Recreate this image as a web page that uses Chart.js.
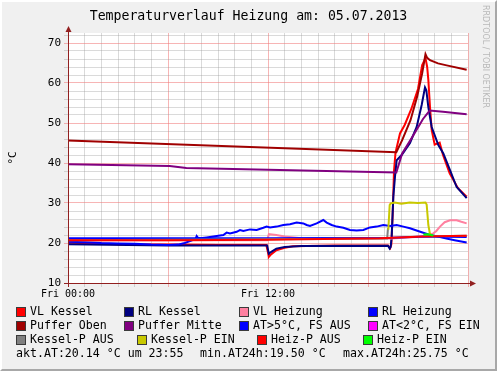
<!DOCTYPE html>
<html><head><meta charset="utf-8">
<script src="https://cdn.jsdelivr.net/npm/chart.js@4.4.1/dist/chart.umd.min.js"></script>
<style>
html,body{margin:0;padding:0;}
body{width:497px;height:371px;background:#f0f0f0;position:relative;overflow:hidden;font-family:"DejaVu Sans Mono",monospace;color:#000;}
#frame{position:absolute;left:0;top:0;width:497px;height:371px;box-sizing:border-box;border-left:2px solid #fff;border-top:2px solid #fff;border-right:2px solid #a8a8a8;border-bottom:2px solid #a8a8a8;pointer-events:none;}
canvas{position:absolute;left:0;top:0;}
.t{position:absolute;white-space:pre;font-size:11.6px;line-height:14px;}
.sq{position:absolute;width:8px;height:8px;border:1px solid #3a3a3a;}
#title{position:absolute;left:0;top:7px;width:497px;text-align:center;font-size:13.2px;line-height:18px;white-space:pre;}
#wm{position:absolute;left:481px;top:5px;writing-mode:vertical-rl;font-family:"DejaVu Sans",sans-serif;font-size:8px;color:#b8b8b8;white-space:pre;}
</style></head>
<body>
<canvas id="c" width="497" height="371"></canvas>
<div id="title">Temperaturverlauf Heizung am: 05.07.2013</div>
<div id="wm">RRDTOOL / TOBI OETIKER</div>
<div id="legend"></div>
<div id="frame"></div>
<script>
// ---- data (hours since Fri 00:00, °C) ----
const xTickLabels = {0: 'Fri 00:00', 12: 'Fri 12:00'};
const yTickLabels = [10, 20, 30, 40, 50, 60, 70];

const vlKesselH = [0, 1.5, 3, 6, 9, 11.9, 12.0, 12.05, 12.2, 12.5, 13, 13.5, 16, 19.2, 19.33, 19.4, 19.48, 19.56, 19.65, 19.92, 20.2, 20.6, 21.0, 21.25, 21.45, 21.55, 21.62, 21.72, 21.82, 22.0, 22.3, 22.5, 22.9, 23.4, 23.92];
const vlKesselC = [20.1, 19.9, 19.7, 19.6, 19.5, 19.5, 17.6, 16.5, 17.2, 18.2, 18.8, 19.2, 19.35, 19.35, 18.7, 19.6, 27, 38, 42.6, 47.4, 49.5, 53.5, 58.5, 64.5, 66.2, 64, 60.8, 54, 48.3, 44.6, 45.1, 42.0, 37.4, 33.7, 31.6];

const rlKesselH = [0, 6, 11.95, 12.05, 12.2, 12.5, 13, 14, 19.2, 19.3, 19.36, 19.42, 19.52, 19.62, 19.72, 20.02, 20.52, 20.92, 21.22, 21.42, 21.5, 21.62, 21.82, 22.22, 22.52, 22.92, 23.32, 23.92];
const rlKesselC = [19.7, 19.4, 19.35, 17.3, 17.8, 18.6, 19.0, 19.25, 19.3, 18.6, 19.0, 21.6, 31.6, 36.6, 40.7, 42.0, 45.0, 49.0, 54.5, 58.9, 58.2, 54.0, 49.0, 44.5, 42.4, 38.2, 34.0, 31.2];

const vlHeizungH = [0, 11.95, 12.05, 12.5, 13, 14, 19.4, 21.3, 21.92, 22.1, 22.32, 22.6, 22.92, 23.32, 23.6, 23.92];
const vlHeizungC = [20.7, 20.7, 22.2, 22.0, 21.6, 21.2, 21.1, 21.6, 22.4, 23.0, 24.1, 25.2, 25.7, 25.7, 25.3, 24.9];

const rlHeizungH = [0, 12, 19.4, 21.5, 23.92];
const rlHeizungC = [21.2, 21.2, 21.3, 21.6, 21.5];

const pufferObenH = [0, 19.7, 20.05, 20.55, 20.95, 21.25, 21.45, 21.55, 21.72, 22.2, 22.72, 23.92];
const pufferObenC = [45.6, 42.7, 45.7, 50.7, 56.6, 62.4, 67.2, 66.3, 65.7, 64.9, 64.4, 63.3];

const pufferMitteH = [0, 6.1, 7.1, 19.7, 20.05, 20.5, 20.9, 21.3, 21.7, 22.5, 23.92];
const pufferMitteC = [39.7, 39.25, 38.75, 37.6, 42.4, 45.4, 48.2, 51.0, 53.1, 52.8, 52.2];

const atH = [0, 1, 2, 3, 4, 5, 6, 6.6, 7.0, 7.4, 7.65, 7.72, 7.8, 7.92, 8.32, 8.92, 9.32, 9.52, 9.72, 10.12, 10.32, 10.52, 10.92, 11.32, 11.72, 11.92, 12.12, 12.52, 12.92, 13.32, 13.72, 14.12, 14.32, 14.52, 14.92, 15.32, 15.52, 15.82, 16.12, 16.52, 16.92, 17.32, 17.72, 18.12, 18.52, 18.92, 19.32, 19.72, 20.12, 20.52, 21.0, 21.72, 22.2, 22.7, 23.2, 23.92];
const atC = [20.3, 20.2, 20.0, 19.9, 19.8, 19.6, 19.5, 19.6, 20.0, 20.6, 21.0, 21.75, 21.3, 21.17, 21.4, 21.75, 22.0, 22.6, 22.4, 22.8, 23.25, 23.0, 23.4, 23.25, 23.8, 24.1, 23.9, 24.1, 24.5, 24.7, 25.1, 24.9, 24.5, 24.25, 24.9, 25.75, 25.1, 24.5, 24.1, 23.8, 23.25, 23.1, 23.25, 23.9, 24.1, 24.5, 24.25, 24.5, 24.1, 23.7, 23.0, 22.0, 21.6, 21.1, 20.7, 20.14];

const kesselPAusH = [0, 19.15, 19.2, 19.21, 21.75, 23.92];
const kesselPAusC = [20.7, 21.1, 23.7, null, 21.7, 21.8];

const kesselPEinH = [19.22, 19.3, 19.36, 19.6, 20.0, 20.5, 21.0, 21.45, 21.52, 21.62, 21.72];
const kesselPEinC = [23.3, 29.5, 29.9, 30.1, 29.8, 30.1, 30.0, 30.1, 29.6, 24.5, 22.2];

const heizPAusH = [0, 6, 12, 18.7, 21.3, 23.92];
const heizPAusC = [20.7, 20.7, 20.8, 21.2, 21.6, 21.8];

const heizPEinH = [21.32, 21.6, 21.92];
const heizPEinC = [22.1, 22.2, 21.9];

const atStats = {akt: '20.14', zeit: '23:55', min: '19.50', max: '25.75'};

// ---- build ----
const pts = (h, v) => h.map((x, i) => ({x: x, y: v[i]}));
const series = [
  {label: 'VL Kessel', color: '#ff0000', data: pts(vlKesselH, vlKesselC)},
  {label: 'RL Kessel', color: '#000080', data: pts(rlKesselH, rlKesselC)},
  {label: 'VL Heizung', color: '#ff80a0', data: pts(vlHeizungH, vlHeizungC)},
  {label: 'RL Heizung', color: '#0000ff', data: pts(rlHeizungH, rlHeizungC)},
  {label: 'Puffer Oben', color: '#a00000', data: pts(pufferObenH, pufferObenC)},
  {label: 'Puffer Mitte', color: '#800080', data: pts(pufferMitteH, pufferMitteC)},
  {label: 'AT>5°C, FS AUS', color: '#0000ff', data: pts(atH, atC)},
  {label: 'AT<2°C, FS EIN', color: '#ff00ff', data: []},
  {label: 'Kessel-P AUS', color: '#808080', data: pts(kesselPAusH, kesselPAusC)},
  {label: 'Kessel-P EIN', color: '#c8c800', data: pts(kesselPEinH, kesselPEinC)},
  {label: 'Heiz-P AUS', color: '#ff0000', data: pts(heizPAusH, heizPAusC)},
  {label: 'Heiz-P EIN', color: '#00ff00', data: pts(heizPEinH, heizPEinC)}
];

const majorGrid = 'rgba(240,120,120,0.55)';
const minorGrid = 'rgba(150,150,150,0.35)';
const axisColor = '#922020';

const yGridVals = [];
for (let v = 10; v <= 72; v += 2) yGridVals.push(v);
const xGridVals = [];
for (let h = 0; h <= 24; h++) xGridVals.push(h);

const frame = {
  id: 'frame',
  beforeDraw(chart) {
    const a = chart.chartArea, c = chart.ctx;
    c.save(); c.fillStyle = '#ffffff'; c.fillRect(a.left, a.top, a.right - a.left, a.bottom - a.top); c.restore();
  },
  afterDraw(chart) {
    const a = chart.chartArea, c = chart.ctx;
    c.save();
    c.strokeStyle = axisColor; c.fillStyle = axisColor; c.lineWidth = 1;
    c.beginPath(); c.moveTo(a.left + 0.5, a.bottom + 4); c.lineTo(a.left + 0.5, a.top - 4); c.stroke();
    c.beginPath(); c.moveTo(a.left - 4, a.bottom + 0.5); c.lineTo(a.right + 4, a.bottom + 0.5); c.stroke();
    c.beginPath(); c.moveTo(a.left + 0.5, a.top - 7); c.lineTo(a.left - 2.5, a.top - 1); c.lineTo(a.left + 3.5, a.top - 1); c.closePath(); c.fill();
    c.beginPath(); c.moveTo(a.right + 8, a.bottom + 0.5); c.lineTo(a.right + 2, a.bottom - 2.5); c.lineTo(a.right + 2, a.bottom + 3.5); c.closePath(); c.fill();
    c.restore();
  }
};

new Chart(document.getElementById('c'), {
  type: 'line',
  data: {datasets: series.map((s, i) => ({
    label: s.label, data: s.data, borderColor: s.color, backgroundColor: s.color,
    borderWidth: 2, pointRadius: 0, tension: 0, fill: false, order: -i, spanGaps: false
  }))},
  options: {
    responsive: false, animation: false, events: [],
    layout: {padding: {left: 0, top: 33, right: 29, bottom: 0}},
    plugins: {legend: {display: false}, tooltip: {enabled: false}, title: {display: false}},
    scales: {
      x: {
        type: 'linear', min: 0, max: 24,
        afterFit(s) { s.height = 88; },
        afterBuildTicks(s) { s.ticks = xGridVals.map(v => ({value: v})); },
        ticks: {autoSkip: false, maxRotation: 0, padding: 1, color: '#000',
          font: {family: 'DejaVu Sans Mono', size: 10},
          callback: v => xTickLabels[v] || ''},
        grid: {color: c => (c.tick && c.tick.value % 6 === 0) ? majorGrid : minorGrid, tickLength: 4, lineWidth: 1},
        border: {display: false}
      },
      y: {
        min: 10, max: 72.5,
        afterFit(s) { s.width = 68; },
        afterBuildTicks(s) { s.ticks = yGridVals.map(v => ({value: v})); },
        ticks: {autoSkip: false, padding: 3, color: '#000',
          font: {family: 'DejaVu Sans Mono', size: 11},
          callback: v => yTickLabels.includes(v) ? String(v) : ''},
        grid: {color: c => (c.tick && c.tick.value % 10 === 0) ? majorGrid : minorGrid, tickLength: 4, lineWidth: 1},
        border: {display: false},
        title: {display: true, text: '°C', color: '#000', font: {family: 'DejaVu Sans Mono', size: 11}, padding: {top: 7, bottom: 0}}
      }
    }
  },
  plugins: [frame]
});

// ---- legend (HTML text) ----
const legendRows = [
  {top: 304, items: [[0, 16], [1, 124], [2, 239], [3, 368]]},
  {top: 318, items: [[4, 16], [5, 124], [6, 239], [7, 368]]},
  {top: 332, items: [[8, 16], [9, 137], [10, 257], [11, 363]]}
];
const lg = document.getElementById('legend');
legendRows.forEach(r => r.items.forEach(([idx, x]) => {
  const s = series[idx];
  const sq = document.createElement('div'); sq.className = 'sq';
  sq.style.left = x + 'px'; sq.style.top = (r.top + 3) + 'px'; sq.style.background = s.color;
  lg.appendChild(sq);
  const t = document.createElement('div'); t.className = 't';
  t.style.left = (x + 14) + 'px'; t.style.top = r.top + 'px'; t.textContent = s.label;
  lg.appendChild(t);
}));
[[16, 'akt.AT:' + atStats.akt + ' °C um ' + atStats.zeit], [200, 'min.AT24h:' + atStats.min + ' °C'], [343, 'max.AT24h:' + atStats.max + ' °C']].forEach(([x, txt]) => {
  const t = document.createElement('div'); t.className = 't';
  t.style.left = x + 'px'; t.style.top = '346px'; t.textContent = txt;
  lg.appendChild(t);
});
</script>
</body></html>
